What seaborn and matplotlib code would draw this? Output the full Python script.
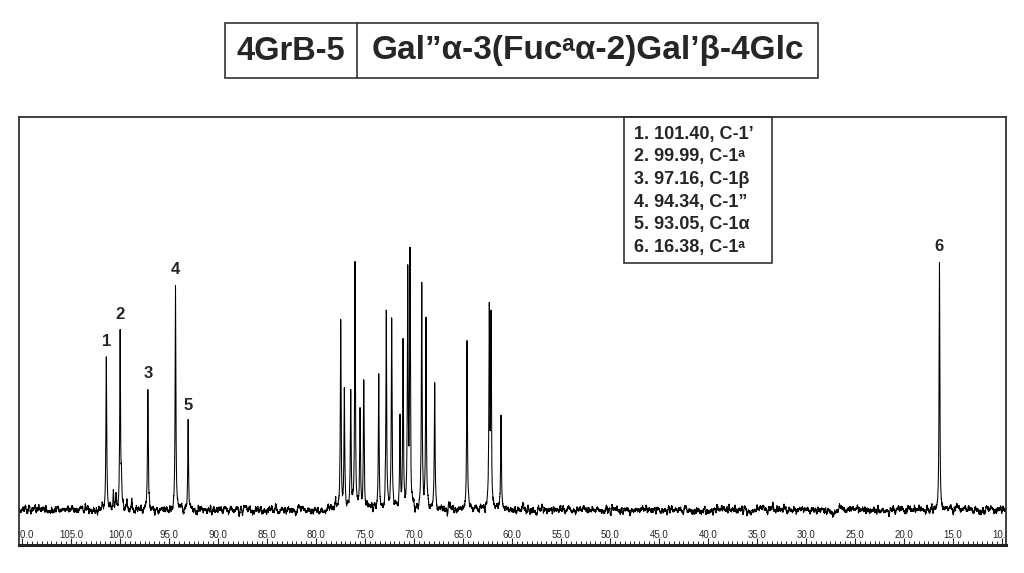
import numpy as np
import pandas as pd
import matplotlib
matplotlib.use("Agg")
import matplotlib.pyplot as plt
import seaborn as sns
from matplotlib.patches import Rectangle
from matplotlib.ticker import MultipleLocator, FormatStrFormatter

# assigned anomeric / methyl peaks (ppm, intensity)
label_ppm = [101.40, 99.99, 97.16, 94.34, 93.05, 16.38]
label_height = [151, 178, 119, 223, 87, 246]
label_names = ["C-1’", "C-1ᵃ", "C-1β", "C-1”", "C-1α", "C-1ᵃ"]

# ring carbon region
ring_ppm = [77.48, 77.11, 76.46, 76.02, 75.51, 75.13, 73.60, 72.83, 72.28,
            71.43, 71.12, 70.64, 70.41, 69.21, 68.78, 67.89, 64.59, 62.32,
            62.14, 61.12]
ring_height = [186, 120, 118, 248, 99, 127, 139, 197, 190,
               88, 166, 232, 250, 226, 196, 126, 170, 196,
               186, 95]

# small side peaks
minor_ppm = [100.68, 100.4, 99.85, 99.3, 98.8, 66.3, 78.0]
minor_height = [20, 14, 30, 10, 9, 10, 8]

title_left = "4GrB-5"
title_right = "Gal”α-3(Fucᵃα-2)Gal’β-4Glc"

FONT = ["Liberation Sans", "DejaVu Sans"]


def spectrum():
    ppm = np.linspace(110.4, 9.5, 24000)
    inten = np.zeros_like(ppm)
    hw = 0.045
    for p, h in zip(label_ppm + ring_ppm + minor_ppm,
                    label_height + ring_height + minor_height):
        inten += h * hw ** 2 / ((ppm - p) ** 2 + hw ** 2)
    # baseline noise texture
    rng = np.random.default_rng(3)
    noise = rng.normal(0, 1, ppm.size)
    noise = np.convolve(noise, np.ones(28) / 28, mode="same")
    noise = noise / noise.std() * 2.0
    return pd.DataFrame({"ppm": ppm, "intensity": inten + noise})


def main():
    sns.set_style("white")
    plt.rcParams["font.family"] = FONT
    fig = plt.figure(figsize=(10.24, 5.73), dpi=100)
    W, H = 1024, 573
    ax = fig.add_axes([18.5 / W, (H - 545) / H, (1006 - 18.5) / W, (545 - 117) / H])

    df = spectrum()
    sns.lineplot(data=df, x="ppm", y="intensity", ax=ax, color="black",
                 lw=0.75, estimator=None, sort=False)
    ax.set_xlim(110.36, 9.59)
    ax.set_ylim(-35, 393)
    ax.set_xlabel("")
    ax.set_ylabel("")
    ax.set_yticks([])

    ax.xaxis.set_major_locator(MultipleLocator(5))
    ax.xaxis.set_minor_locator(MultipleLocator(0.5))
    ax.xaxis.set_major_formatter(FormatStrFormatter("%.1f"))
    ax.tick_params(axis="x", which="major", direction="in", length=5,
                   width=0.8, pad=-10.5, labelsize=7, bottom=True)
    ax.tick_params(axis="x", which="minor", direction="in", length=3,
                   width=0.7, bottom=True)
    for lab in ax.get_xticklabels():
        lab.set_clip_on(True)
        lab.set_clip_box(ax.bbox)

    for side in ["left", "right", "top"]:
        ax.spines[side].set_linewidth(1.3)
        ax.spines[side].set_color("#333333")
    ax.spines["bottom"].set_linewidth(2.2)
    ax.spines["bottom"].set_color("#222222")

    # peak numbers
    for i, (p, h) in enumerate(zip(label_ppm, label_height)):
        ax.annotate(str(i + 1), xy=(p, h), xytext=(0, 7),
                    textcoords="offset points", ha="center", va="bottom",
                    fontsize=12, fontweight="bold", family=FONT)

    # assignment box
    fig.patches.append(Rectangle((624 / W, 1 - 263 / H), 148 / W, 146 / H,
                                 transform=fig.transFigure, fill=False,
                                 edgecolor="#333333", lw=1.2))
    for i, (p, n) in enumerate(zip(label_ppm, label_names)):
        y = 134 + i * 22.7
        fig.text(634 / W, 1 - y / H, f"{i + 1}. {p:.2f}, {n}",
                 ha="left", va="center", fontsize=13, fontweight="bold",
                 family=FONT)

    # title box
    fig.patches.append(Rectangle((225 / W, 1 - 78 / H), 593 / W, 55 / H,
                                 transform=fig.transFigure, fill=False,
                                 edgecolor="#333333", lw=1.2))
    fig.lines.append(plt.Line2D([357 / W, 357 / W], [1 - 78 / H, 1 - 23 / H],
                                transform=fig.transFigure, color="#333333",
                                lw=1.2))
    fig.text(291 / W, 1 - 51 / H, title_left, ha="center", va="center",
             fontsize=23.5, fontweight="bold", family=FONT)
    fig.text(588 / W, 1 - 51 / H, title_right, ha="center", va="center",
             fontsize=24, fontweight="bold", family=FONT)

    fig.savefig("out.png", dpi=100, facecolor="white")


if __name__ == "__main__":
    main()
